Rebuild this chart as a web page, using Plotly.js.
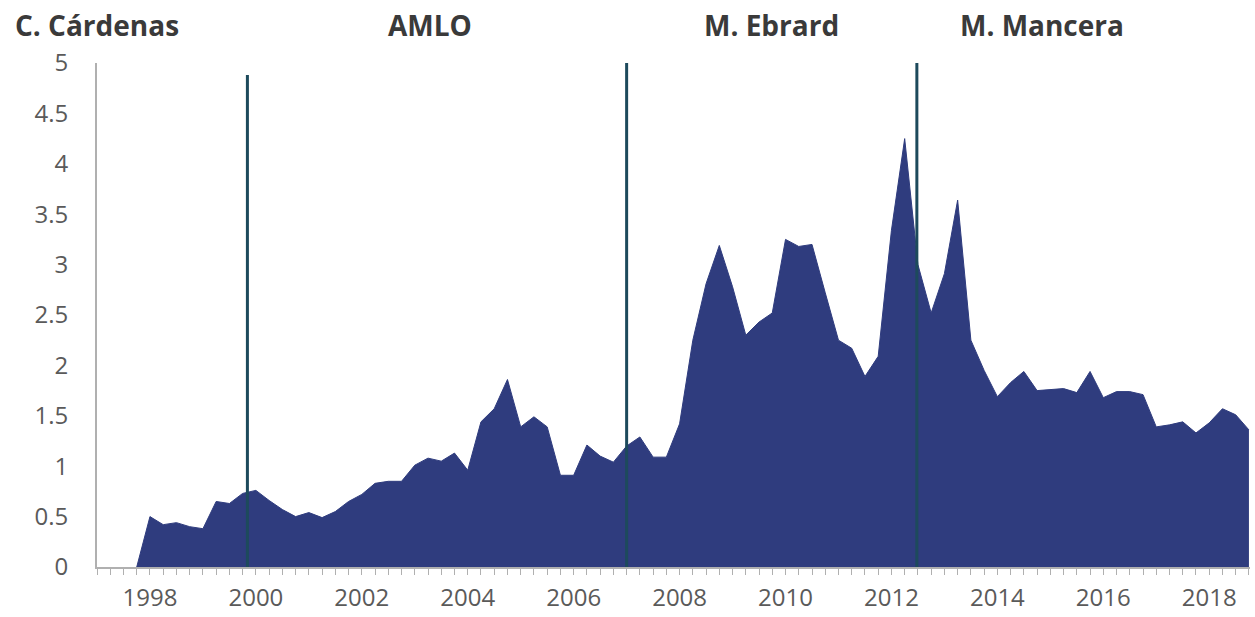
<!DOCTYPE html>
<html>
<head>
<meta charset="utf-8">
<script src="https://cdn.plot.ly/plotly-3.0.1.min.js"></script>
<style>html,body{margin:0;padding:0;background:#fff;}#chart{width:1255px;height:617px;}</style>
</head>
<body>
<div id="chart"></div>
<script>
// Quarterly series, first point = 1997 Q4 (zero), then 1998 Q1 ... 2018 Q4
const firstQuarter = 1997.75;
const values = [0,
  0.50, 0.42, 0.44, 0.40, 0.38, 0.65, 0.63, 0.73,
  0.76, 0.66, 0.57, 0.50, 0.54, 0.49, 0.55, 0.65,
  0.72, 0.83, 0.85, 0.85, 1.01, 1.08, 1.05, 1.13,
  0.96, 1.44, 1.57, 1.86, 1.39, 1.49, 1.39, 0.91,
  0.91, 1.21, 1.10, 1.04, 1.20, 1.29, 1.09, 1.09,
  1.42, 2.25, 2.81, 3.19, 2.78, 2.30, 2.43, 2.52,
  3.25, 3.18, 3.20, 2.72, 2.25, 2.17, 1.89, 2.09,
  3.34, 4.25, 3.00, 2.52, 2.91, 3.64, 2.25, 1.95,
  1.69, 1.83, 1.94, 1.75, 1.76, 1.77, 1.73, 1.94,
  1.68, 1.74, 1.74, 1.71, 1.39, 1.41, 1.44, 1.33,
  1.43, 1.57, 1.51, 1.36
];
const periods = values.map((v, i) => firstQuarter + 0.25 * i);

// Administration changes (vertical lines) and their labels
const termBreaks = [1999.84, 2007.0, 2012.48];
const termTops = [4.88, 5, 5];
const termNames = ['C. Cárdenas', 'AMLO', 'M. Ebrard', 'M. Mancera'];
const termLabelX = [1997.0, 2003.29, 2009.73, 2014.85];

const xTickVals = [1998, 2000, 2002, 2004, 2006, 2008, 2010, 2012, 2014, 2016, 2018];
const yTickVals = [0, 0.5, 1, 1.5, 2, 2.5, 3, 3.5, 4, 4.5, 5];

const traces = [{
  x: periods, y: values, type: 'scatter', mode: 'lines',
  fill: 'tozeroy', fillcolor: '#2f3c7e',
  line: {color: '#2f3c7e', width: 1}, hoverinfo: 'skip'
}];
termBreaks.forEach((b, i) => {
  traces.push({
    x: [b, b], y: [0, termTops[i]], type: 'scatter', mode: 'lines',
    line: {color: '#1d4a5c', width: 3}, hoverinfo: 'skip'
  });
});

const annotations = termNames.map((t, i) => ({
  x: termLabelX[i], xref: 'x', y: 1.075, yref: 'paper',
  text: t, showarrow: false, xanchor: 'center', yanchor: 'middle',
  font: {family: 'Open Sans, sans-serif', size: 28, color: '#3a3a3a', weight: 700}
}));

const layout = {
  width: 1255, height: 617,
  margin: {l: 97, r: 5, t: 63, b: 50},
  paper_bgcolor: '#ffffff', plot_bgcolor: '#ffffff',
  showlegend: false,
  xaxis: {
    range: [1997, 2018.77], tickvals: xTickVals, ticktext: xTickVals.map(String),
    showgrid: false, zeroline: false, showline: true, linecolor: '#b0b0b0', linewidth: 2,
    ticks: 'outside', ticklen: 6, tickcolor: '#b0b0b0', tickwidth: 1,
    minor: {dtick: 0.25, tick0: 1997, ticks: 'outside', ticklen: 6, tickcolor: '#b0b0b0', tickwidth: 1, showgrid: false},
    ticklabelstandoff: 2,
    tickfont: {family: 'Open Sans, sans-serif', size: 24, color: '#5a5a5a'}
  },
  yaxis: {
    range: [0, 5], tickvals: yTickVals, ticktext: yTickVals.map(String),
    showgrid: false, zeroline: false, showline: true, linecolor: '#b0b0b0', linewidth: 2,
    ticks: '', ticklabelstandoff: 22,
    tickfont: {family: 'Open Sans, sans-serif', size: 24, color: '#5a5a5a'}
  },
  annotations: annotations
};

Plotly.newPlot('chart', traces, layout, {displayModeBar: false, staticPlot: true});
</script>
</body>
</html>
